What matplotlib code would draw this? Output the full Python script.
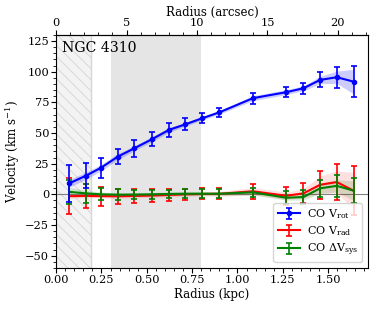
import numpy as np
import matplotlib
matplotlib.use("Agg")
import matplotlib.pyplot as plt

plt.rcParams['font.family'] = ['DejaVu Serif']
plt.rcParams['mathtext.fontset'] = 'dejavuserif'
plt.rcParams['hatch.linewidth'] = 0.7

# ---- data ----
radius_kpc = [0.073, 0.165, 0.248, 0.340, 0.432, 0.528, 0.622, 0.713, 0.805, 0.901,
              1.085, 1.269, 1.364, 1.456, 1.548, 1.640]
vrot = [9.0, 15.2, 21.7, 30.7, 37.6, 44.9, 52.5, 57.1, 62.0, 66.9,
        78.4, 83.3, 86.5, 93.3, 95.5, 91.9]
vrot_err = [15.3, 10.0, 8.0, 6.3, 7.0, 5.7, 5.5, 5.0, 4.1, 3.9,
            4.6, 4.0, 4.3, 6.1, 8.6, 12.7]
vrot_spread = [3.0, 3.0, 2.5, 2.5, 2.0, 2.0, 2.0, 1.5, 1.5, 1.5,
               2.0, 2.0, 2.0, 3.0, 5.0, 10.0]
vrad = [-1.5, -1.3, -1.5, -1.6, -1.3, -1.0, -0.5, 0.0, 0.3, 0.4,
        2.5, -1.2, 0.8, 7.8, 10.0, 3.0]
vrad_err = [14.5, 10.0, 7.8, 6.0, 5.4, 5.0, 4.9, 4.5, 4.5, 4.5,
            6.1, 7.5, 8.2, 11.3, 14.6, 20.0]
vrad_spread = [1.5, 1.5, 1.5, 1.5, 1.5, 1.5, 1.5, 1.5, 1.5, 2.0,
               3.0, 3.0, 4.0, 7.0, 9.0, 15.0]
dvsys = [2.0, 0.8, 0.0, -0.3, -0.2, 0.0, 0.3, 0.5, 0.5, 0.5,
         1.6, -2.8, -2.2, 4.9, 6.9, 3.0]
dvsys_err = [10.0, 7.5, 5.0, 4.3, 3.8, 3.5, 3.5, 3.5, 3.5, 3.5,
             3.8, 5.4, 6.0, 6.8, 8.8, 10.0]
dvsys_spread = [3.5, 2.5, 2.0, 1.5, 1.5, 1.5, 1.5, 1.5, 1.5, 1.5,
                2.0, 2.0, 2.5, 4.0, 5.0, 8.0]

hatched_region = (0.0, 0.19)
gray_region = (0.30, 0.80)
arcsec_per_kpc = 12.87
galaxy = "NGC 4310"

# ---- figure ----
fig = plt.figure(figsize=(3.74, 3.09), dpi=100)
ax = fig.add_axes([0.150, 0.133, 0.834, 0.754])

ax.axvspan(*hatched_region, facecolor='#f3f3f3', edgecolor='#d8d8d8',
           hatch='\\\\\\', linewidth=0, zorder=0)
ax.axvline(hatched_region[1], color='#d6d6d6', lw=1.0, zorder=0.5)
ax.axvspan(*gray_region, facecolor='#e5e5e5', edgecolor='none', zorder=0)
ax.axhline(0, color='#808080', lw=0.8, zorder=1)

r = np.array(radius_kpc)

def band(y, s, color, alpha):
    y = np.array(y); s = np.array(s)
    ax.fill_between(r, y - s, y + s, color=color, alpha=alpha, lw=0, zorder=2)

band(vrot, vrot_spread, 'blue', 0.2)
band(vrad, vrad_spread, 'red', 0.12)
band(dvsys, dvsys_spread, 'green', 0.15)

eb_rot = ax.errorbar(r, vrot, yerr=vrot_err, color='blue', marker='o', ms=3,
                     lw=1.5, capsize=2.5, elinewidth=1.2, capthick=1.2, zorder=5,
                     label=r'CO V$_{\rm rot}$')
eb_rad = ax.errorbar(r, vrad, yerr=vrad_err, color='red', lw=1.5, capsize=2.5,
                     elinewidth=1.2, capthick=1.2, zorder=3,
                     label=r'CO V$_{\rm rad}$')
eb_sys = ax.errorbar(r, dvsys, yerr=dvsys_err, color='green', lw=1.5, capsize=2.5,
                     elinewidth=1.2, capthick=1.2, zorder=4,
                     label=r'CO $\Delta$V$_{\rm sys}$')

ax.set_xlim(0, 1.72)
ax.set_ylim(-60, 130)
ax.set_xticks([0.0, 0.25, 0.5, 0.75, 1.0, 1.25, 1.5])
ax.set_xticklabels(['0.00', '0.25', '0.50', '0.75', '1.00', '1.25', '1.50'])
ax.set_yticks([-50, -25, 0, 25, 50, 75, 100, 125])
ax.minorticks_on()
ax.tick_params(which='both', labelsize=8.2, pad=1.5)
ax.tick_params(which='minor', length=2)
ax.set_xlabel('Radius (kpc)', fontsize=8.5, labelpad=2.5)
ax.set_ylabel(r'Velocity (km s$^{-1}$)', fontsize=8.5, labelpad=2)

sec = ax.secondary_xaxis('top', functions=(lambda x: x * arcsec_per_kpc,
                                           lambda x: x / arcsec_per_kpc))
sec.set_xticks([0, 5, 10, 15, 20])
sec.minorticks_on()
sec.tick_params(which='both', labelsize=8.2, pad=1.5)
sec.tick_params(which='minor', length=2)
sec.set_xlabel('Radius (arcsec)', fontsize=8.5, labelpad=1.5)

ax.text(0.02, 0.975, galaxy, transform=ax.transAxes, ha='left', va='top',
        fontsize=10.2)

leg = ax.legend(handles=[eb_rot, eb_rad, eb_sys], loc='lower right', fontsize=8,
                borderaxespad=0.5, handletextpad=0.6, labelspacing=0.3)

fig.savefig('out.png', dpi=100)
